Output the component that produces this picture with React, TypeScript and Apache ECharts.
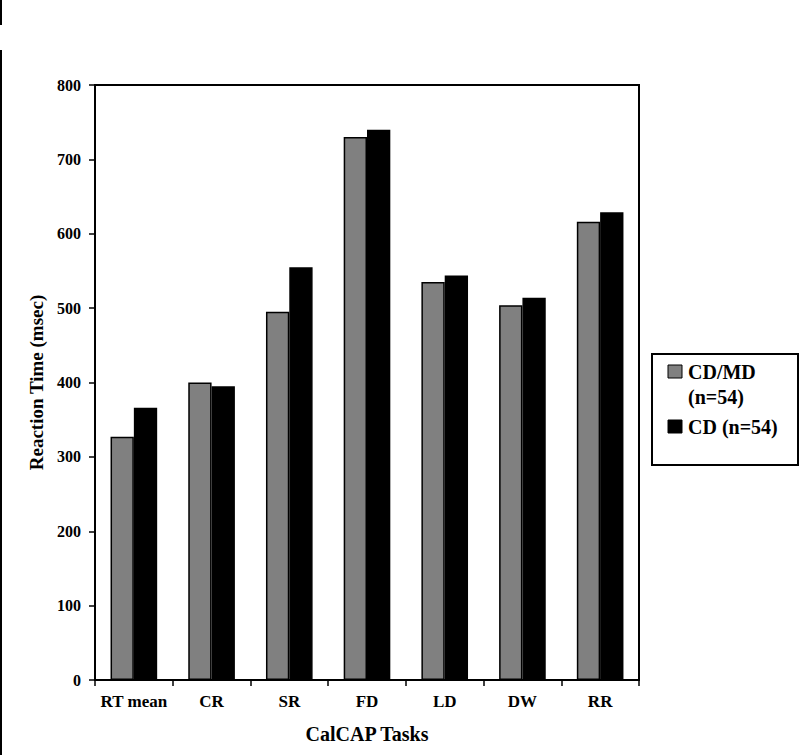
import React, { useEffect, useRef } from "react";
import * as echarts from "echarts";

const categories = ["RT mean", "CR", "SR", "FD", "LD", "DW", "RR"];
const cdmdValues = [327, 400, 495, 730, 535, 504, 616];
const cdValues = [366, 395, 555, 740, 544, 514, 629];
const seriesNames = ["CD/MD (n=54)", "CD (n=54)"];
const yTicks = [0, 100, 200, 300, 400, 500, 600, 700, 800];

const FONT = "'Liberation Serif', 'Times New Roman', serif";

export default function App() {
  const ref = useRef<HTMLDivElement>(null);
  useEffect(() => {
    if (!ref.current) return;
    const chart = echarts.init(ref.current, null, { renderer: "svg" });
    chart.setOption({
      animation: false,
      backgroundColor: "#fff",
      grid: {
        left: 95,
        top: 85,
        right: 161,
        bottom: 75,
        show: true,
        borderColor: "#000",
        borderWidth: 2,
        backgroundColor: "transparent",
      },
      xAxis: {
        type: "category",
        data: categories,
        name: "CalCAP Tasks",
        nameLocation: "middle",
        nameGap: 44,
        nameTextStyle: { fontFamily: FONT, fontWeight: "bold", fontSize: 20, color: "#000" },
        axisLine: { lineStyle: { color: "#000", width: 2 } },
        axisTick: { show: true, interval: 0, length: 6, lineStyle: { color: "#000", width: 1.5 } },
        axisLabel: {
          interval: 0,
          fontFamily: FONT,
          fontWeight: "bold",
          fontSize: 17,
          color: "#000",
          margin: 13,
        },
      },
      yAxis: {
        type: "value",
        min: yTicks[0],
        max: yTicks[yTicks.length - 1],
        interval: 100,
        name: "Reaction Time (msec)",
        nameLocation: "middle",
        nameGap: 45,
        nameTextStyle: { fontFamily: FONT, fontWeight: "bold", fontSize: 19, color: "#000" },
        axisLine: { show: true, lineStyle: { color: "#000", width: 2 } },
        axisTick: { show: true, length: 6, lineStyle: { color: "#000", width: 1.5 } },
        axisLabel: { fontFamily: FONT, fontWeight: "bold", fontSize: 16, color: "#000", margin: 14 },
        splitLine: { show: false },
      },
      series: [
        {
          name: seriesNames[0],
          type: "bar",
          data: cdmdValues,
          barGap: "0%",
          barCategoryGap: "40%",
          itemStyle: { color: "#808080", borderColor: "#000", borderWidth: 1.5 },
        },
        {
          name: seriesNames[1],
          type: "bar",
          data: cdValues,
          barGap: "0%",
          barCategoryGap: "40%",
          itemStyle: { color: "#000", borderColor: "#000", borderWidth: 1.5 },
        },
      ],
      graphic: [
        { type: "rect", shape: { x: 0, y: 0, width: 2, height: 25 }, style: { fill: "#000" } },
        { type: "rect", shape: { x: 0, y: 50, width: 2, height: 705 }, style: { fill: "#000" } },
        {
          type: "rect",
          shape: { x: 652, y: 354, width: 146, height: 111 },
          style: { fill: "#fff", stroke: "#000", lineWidth: 2 },
        },
        {
          type: "rect",
          shape: { x: 668, y: 365, width: 14, height: 13 },
          style: { fill: "#808080", stroke: "#000", lineWidth: 1 },
        },
        {
          type: "text",
          x: 688,
          y: 372,
          style: { text: "CD/MD", font: `bold 20px ${FONT}`, fill: "#000", verticalAlign: "middle" },
        },
        {
          type: "text",
          x: 688,
          y: 397,
          style: { text: "(n=54)", font: `bold 20px ${FONT}`, fill: "#000", verticalAlign: "middle" },
        },
        {
          type: "rect",
          shape: { x: 668, y: 420, width: 14, height: 13 },
          style: { fill: "#000", stroke: "#000", lineWidth: 1 },
        },
        {
          type: "text",
          x: 688,
          y: 427,
          style: { text: "CD (n=54)", font: `bold 20px ${FONT}`, fill: "#000", verticalAlign: "middle" },
        },
      ],
    });
    return () => chart.dispose();
  }, []);
  return <div ref={ref} style={{ width: 800, height: 755, position: "absolute", left: 0, top: 0 }} />;
}
